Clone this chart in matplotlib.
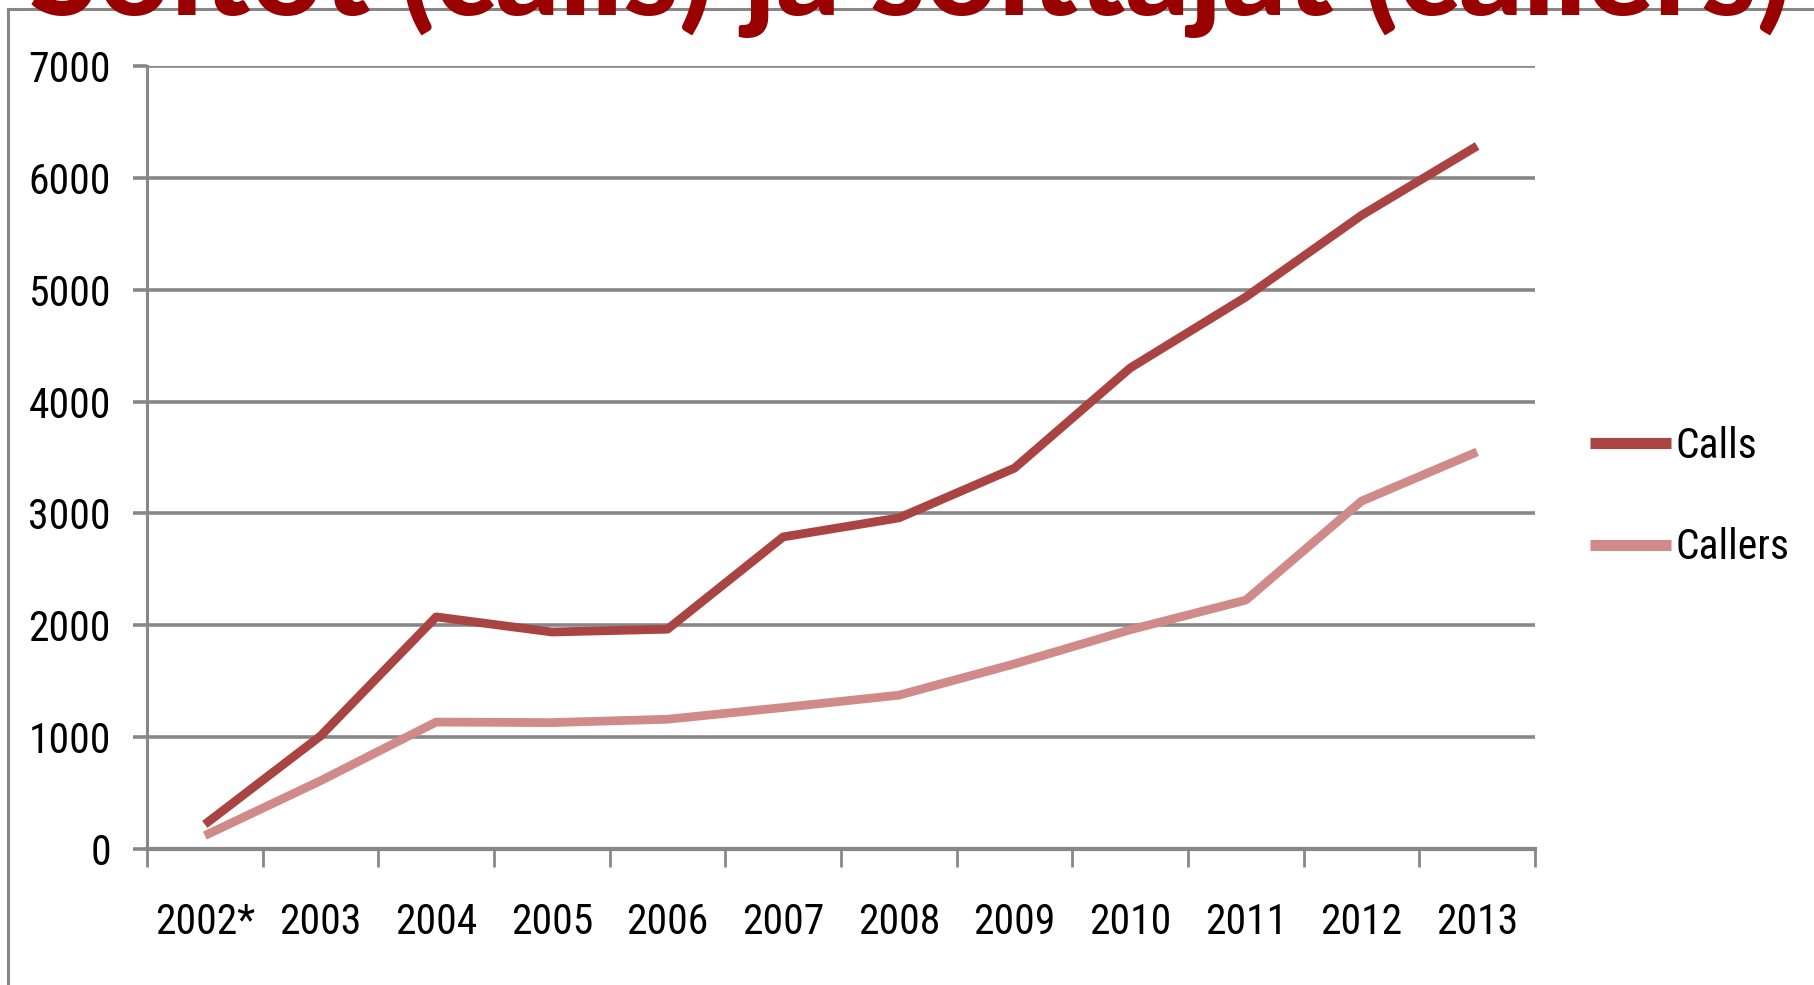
import matplotlib
matplotlib.use("Agg")
import matplotlib.pyplot as plt
import matplotlib.font_manager as fm
from matplotlib.lines import Line2D

# ---- data ----
years = ["2002*", "2003", "2004", "2005", "2006", "2007", "2008", "2009",
         "2010", "2011", "2012", "2013"]
calls = [220, 1010, 2075, 1940, 1965, 2790, 2960, 3405, 4300, 4935, 5665, 6285]
callers = [120, 610, 1135, 1130, 1160, 1265, 1375, 1655, 1960, 2225, 3110, 3550]
y_ticks = [0, 1000, 2000, 3000, 4000, 5000, 6000, 7000]
title = "Soitot (calls) ja soittajat (callers)"

W, H = 1814, 985
names = {f.name for f in fm.fontManager.ttflist}
narrow = next((n for n in ["Liberation Sans Narrow", "DejaVu Sans Condensed",
                           "Roboto Condensed", "Open Sans Condensed"] if n in names), None)
if narrow:
    lab_font, fs = narrow, 30
else:
    lab_font, fs = "Liberation Sans", 24
title_font = "Lato" if "Lato" in names else "DejaVu Sans"

GRID = "#878787"
C_CALLS = "#A94442"
C_CALLERS = "#D08A8A"

fig = plt.figure(figsize=(W / 100, H / 100), dpi=100)
fig.patch.set_facecolor("white")

# outer frame lines (top and left)
fig.add_artist(Line2D([8 / W, 1], [1 - 9 / H, 1 - 9 / H], transform=fig.transFigure,
                      color=GRID, lw=2.2, zorder=1))
fig.add_artist(Line2D([8 / W, 8 / W], [0, 1 - 9 / H], transform=fig.transFigure,
                      color=GRID, lw=2.2, zorder=1))

ax = fig.add_axes([147 / W, 1 - 849 / H, 1388 / W, 783 / H])
x = list(range(len(years)))
ax.plot(x, calls, color=C_CALLS, lw=6.3, label="Calls", solid_joinstyle="round",
        solid_capstyle="butt", zorder=3)
ax.plot(x, callers, color=C_CALLERS, lw=6.3, label="Callers", solid_joinstyle="round",
        solid_capstyle="butt", zorder=3)

ax.set_xlim(-0.5, len(years) - 0.5)
ax.set_ylim(0, 7000)
ax.set_yticks(y_ticks)
ax.set_yticklabels([str(v) for v in y_ticks], fontsize=fs, family=lab_font)
ax.yaxis.grid(True, color=GRID, lw=2.6)
ax.set_axisbelow(True)
ax.tick_params(axis="y", length=10, width=2.6, color=GRID, pad=16)

ax.set_xticks([i - 0.5 for i in range(len(years) + 1)])
ax.set_xticklabels([])
ax.set_xticks(x, minor=True)
ax.set_xticklabels(years, minor=True, fontsize=fs, family=lab_font)
ax.tick_params(axis="x", which="major", length=13, width=2, color=GRID)
ax.tick_params(axis="x", which="minor", length=0, pad=38)

for s in ["top", "right"]:
    ax.spines[s].set_visible(False)
ax.spines["left"].set_color(GRID)
ax.spines["left"].set_linewidth(2.2)
ax.spines["bottom"].set_color(GRID)
ax.spines["bottom"].set_linewidth(3)

leg = ax.legend(loc="center left", bbox_to_anchor=(1590 / W, 1 - 497 / H),
                bbox_transform=fig.transFigure, frameon=False,
                prop={"family": lab_font, "size": fs},
                handlelength=1.95, handletextpad=0.1, labelspacing=1.45,
                borderpad=0, borderaxespad=0)
for ln in leg.get_lines():
    ln.set_linewidth(8)

t = fig.text(910.5 / W, 1 - 15 / H, title, ha="center", va="baseline",
             fontsize=80, fontweight="black", color="#990000",
             family=title_font, zorder=5)
fig.canvas.draw()
w = t.get_window_extent().width
t.set_fontsize(80 * 1763 / w)

fig.savefig("out.png", dpi=100, facecolor="white")
